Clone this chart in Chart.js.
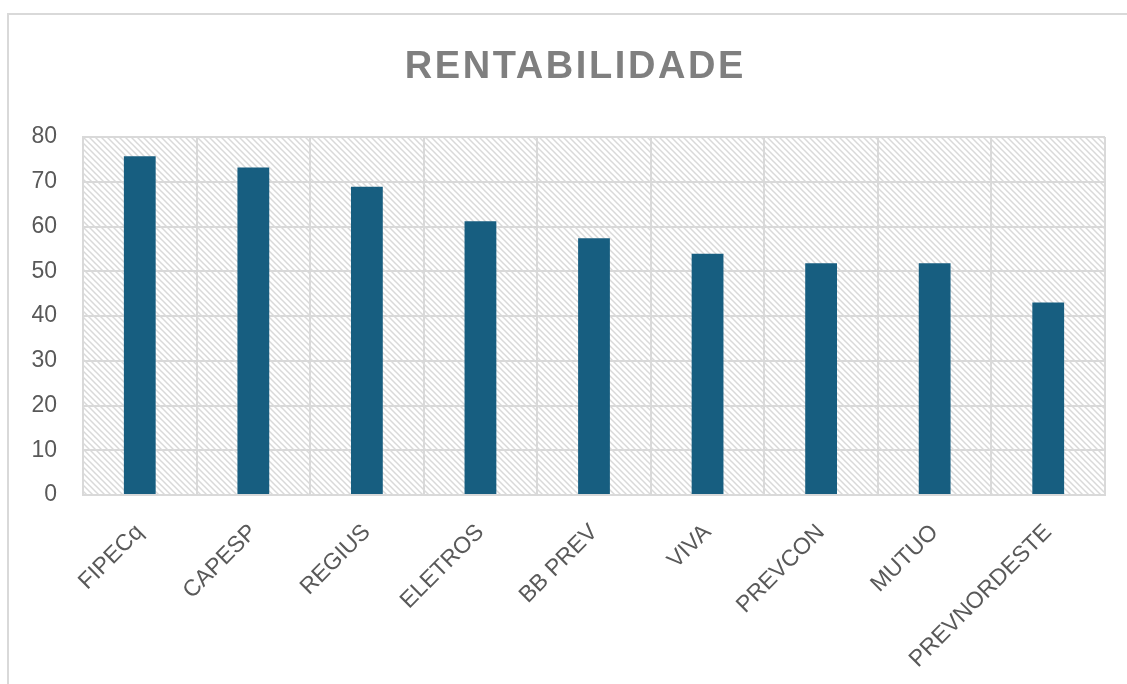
<!DOCTYPE html>
<html>
<head>
<meta charset="utf-8">
<script src="https://cdn.jsdelivr.net/npm/chart.js@4"></script>
<style>
  html, body { margin: 0; padding: 0; background: #fff; }
  #wrap { width: 1127px; height: 684px; position: relative; }
</style>
</head>
<body>
<div id="wrap"><canvas id="myChart" width="1127" height="684"></canvas></div>
<script>
// data
var chartTitle = 'RENTABILIDADE';
var categories = ['FIPECq', 'CAPESP', 'REGIUS', 'ELETROS', 'BB PREV', 'VIVA', 'PREVCON', 'MUTUO', 'PREVNORDESTE'];
var rentabilidade = [75.7, 73.2, 68.9, 61.2, 57.4, 53.9, 51.8, 51.8, 43.0];
var yTicks = [0, 10, 20, 30, 40, 50, 60, 70, 80];

var FONT = '"Liberation Sans", Arial, sans-serif';

// diagonal hatch used behind the bars
function makeHatch(ctx) {
  var c = document.createElement('canvas');
  c.width = 6; c.height = 6;
  var g = c.getContext('2d');
  g.fillStyle = '#ffffff';
  g.fillRect(0, 0, 6, 6);
  g.strokeStyle = '#d9d9d9';
  g.lineWidth = 1.5;
  g.beginPath();
  g.moveTo(-1, -1); g.lineTo(7, 7);
  g.moveTo(-4, 2); g.lineTo(4, 10);
  g.moveTo(2, -4); g.lineTo(10, 4);
  g.stroke();
  return ctx.createPattern(c, 'repeat');
}

var backdrop = {
  id: 'backdrop',
  beforeDraw: function(chart) {
    var ctx = chart.ctx, a = chart.chartArea;
    ctx.save();
    ctx.fillStyle = '#fff';
    ctx.fillRect(0, 0, chart.width, chart.height);
    // outer frame
    ctx.strokeStyle = '#d9d9d9';
    ctx.lineWidth = 2;
    ctx.strokeRect(8, 14, chart.width + 10, chart.height + 10);
    ctx.fillStyle = makeHatch(ctx);
    ctx.fillRect(a.left, a.top, a.right - a.left, a.bottom - a.top);
    ctx.restore();
  },
  afterDraw: function(chart) {
    // title drawn by hand so it can get a little letter spacing
    var ctx = chart.ctx;
    ctx.save();
    ctx.font = 'bold 38px ' + FONT;
    ctx.letterSpacing = '2.6px';
    ctx.fillStyle = '#7f7f7f';
    ctx.textAlign = 'left';
    ctx.textBaseline = 'alphabetic';
    var w = ctx.measureText(chartTitle).width - 2.6;
    ctx.fillText(chartTitle, 574 - w / 2, 78);
    ctx.restore();
  }
};

var ctx = document.getElementById('myChart').getContext('2d');
new Chart(ctx, {
  type: 'bar',
  data: {
    labels: categories,
    datasets: [{
      label: 'Rentabilidade',
      data: rentabilidade,
      backgroundColor: '#175e80',
      borderWidth: 0,
      barPercentage: 0.28,
      categoryPercentage: 1.0
    }]
  },
  options: {
    responsive: false,
    animation: false,
    layout: { padding: { left: 20, right: 22, top: 137, bottom: 0 } },
    plugins: {
      legend: { display: false },
      tooltip: { enabled: false },
      title: { display: false }
    },
    scales: {
      x: {
        grid: { color: '#d9d9d9', lineWidth: 2, offset: true, drawTicks: false },
        border: { color: '#d9d9d9', width: 2 },
        ticks: {
          color: '#595959',
          font: { family: FONT, size: 23 },
          maxRotation: 45, minRotation: 45,
          padding: 24
        },
        afterFit: function(scale) { scale.height = 189; }
      },
      y: {
        min: 0, max: 80,
        afterBuildTicks: function(scale) { scale.ticks = yTicks.map(function(v) { return { value: v }; }); },
        grid: { color: '#d9d9d9', lineWidth: 2, drawTicks: false },
        border: { color: '#d9d9d9', width: 2 },
        ticks: {
          color: '#595959',
          font: { family: FONT, size: 23 },
          padding: 26
        },
        afterFit: function(scale) { scale.width = 63; }
      }
    }
  },
  plugins: [backdrop]
});
</script>
</body>
</html>
